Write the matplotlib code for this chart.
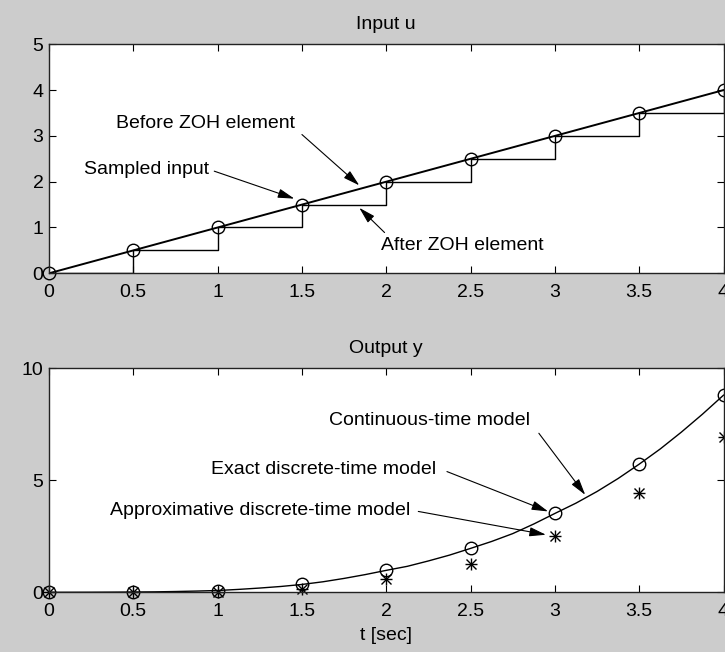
import matplotlib
matplotlib.use("Agg")
import matplotlib.pyplot as plt

# ---- data ----
t_samples = [0, 0.5, 1, 1.5, 2, 2.5, 3, 3.5, 4]
u_samples = [0, 0.5, 1, 1.5, 2, 2.5, 3, 3.5, 4]
t_input_line = [0, 4]
u_input_line = [0, 4]

t_cont = [0, 0.125, 0.25, 0.375, 0.5, 0.625, 0.75, 0.875, 1, 1.125, 1.25, 1.375,
          1.5, 1.625, 1.75, 1.875, 2, 2.125, 2.25, 2.375, 2.5, 2.625, 2.75, 2.875,
          3, 3.125, 3.25, 3.375, 3.5, 3.625, 3.75, 3.875, 4]
y_cont = [0, 0.001, 0.003, 0.007, 0.013, 0.02, 0.035, 0.055, 0.08, 0.13, 0.19, 0.26,
          0.35, 0.47, 0.62, 0.79, 0.98, 1.16, 1.4, 1.66, 1.96, 2.27, 2.62, 3.05,
          3.52, 3.98, 4.5, 5.08, 5.72, 6.4, 7.15, 7.95, 8.8]
y_exact = [0, 0.01, 0.08, 0.35, 0.98, 1.96, 3.52, 5.72, 8.8]
y_approx = [0, 0.0, 0.02, 0.15, 0.58, 1.27, 2.5, 4.43, 6.95]

x_ticks = [0, 0.5, 1, 1.5, 2, 2.5, 3, 3.5, 4]
x_ticklabels = ["0", "0.5", "1", "1.5", "2", "2.5", "3", "3.5", "4"]
top_yticks = [0, 1, 2, 3, 4, 5]
bot_yticks = [0, 5, 10]

plt.rcParams['font.family'] = ['Liberation Sans', 'DejaVu Sans']
FS = 14

fig = plt.figure(figsize=(7.25, 6.52), dpi=100, facecolor='#cccccc')
ax1 = fig.add_axes([49/725, 1-273.3/652, (723.5-49)/725, (273.3-44.3)/652])
ax2 = fig.add_axes([49/725, 1-592.3/652, (723.5-49)/725, (592.3-368.3)/652])

for ax in (ax1, ax2):
    ax.set_facecolor('white')
    ax.set_xlim(0, 4)
    ax.set_xticks(x_ticks)
    ax.set_xticklabels(x_ticklabels)
    ax.tick_params(direction='in', top=True, right=True, length=5, width=0.8,
                   labelsize=FS, colors='black')
    ax.tick_params(axis='x', pad=8)
    ax.tick_params(axis='y', pad=4)
    for s in ax.spines.values():
        s.set_linewidth(1.0)
        s.set_color('#222222')

arrow = dict(arrowstyle='-|>,head_length=1.0,head_width=0.28', lw=0.8, color='black',
             shrinkA=0, shrinkB=0)

# ---- top: input ----
ax1.set_ylim(0, 5)
ax1.set_yticks(top_yticks)
ax1.plot(t_input_line, u_input_line, color='black', lw=1.4)
ax1.step(t_samples, u_samples, where='post', color='black', lw=1.0)
ax1.plot(t_samples, u_samples, linestyle='none', marker='o', mfc='none', mec='black',
         ms=9, mew=1.0, clip_on=False)
ax1.set_title('Input u', fontsize=FS, pad=11)

ax1.text(0.40, 3.28, 'Before ZOH element', fontsize=FS, va='center', ha='left')
ax1.annotate('', xy=(1.84, 1.92), xytext=(1.50, 3.03), arrowprops=arrow)
ax1.text(0.205, 2.27, 'Sampled input', fontsize=FS, va='center', ha='left')
ax1.annotate('', xy=(1.455, 1.63), xytext=(0.98, 2.23), arrowprops=arrow)
ax1.text(1.967, 0.60, 'After ZOH element', fontsize=FS, va='center', ha='left')
ax1.annotate('', xy=(1.84, 1.43), xytext=(1.99, 0.89), arrowprops=arrow)

# ---- bottom: output ----
ax2.set_ylim(0, 10)
ax2.set_yticks(bot_yticks)
ax2.plot(t_cont, y_cont, color='black', lw=1.0)
ax2.plot(t_samples, y_exact, linestyle='none', marker='o', mfc='none', mec='black',
         ms=9, mew=1.0, clip_on=False)
ax2.plot(t_samples, y_approx, linestyle='none', marker='+', color='black', ms=9, mew=1.0,
         clip_on=False)
ax2.plot(t_samples, y_approx, linestyle='none', marker='x', color='black', ms=6.5, mew=1.0,
         clip_on=False)
ax2.set_title('Output y', fontsize=FS, pad=11)
ax2.set_xlabel('t [sec]', fontsize=FS, labelpad=5)

ax2.text(1.66, 7.65, 'Continuous-time model', fontsize=FS, va='center', ha='left')
ax2.annotate('', xy=(3.18, 4.35), xytext=(2.905, 7.1), arrowprops=arrow)
ax2.text(0.963, 5.5, 'Exact discrete-time model', fontsize=FS, va='center', ha='left')
ax2.annotate('', xy=(2.96, 3.61), xytext=(2.36, 5.39), arrowprops=arrow)
ax2.text(0.361, 3.66, 'Approximative discrete-time model', fontsize=FS, va='center', ha='left')
ax2.annotate('', xy=(2.947, 2.57), xytext=(2.19, 3.61), arrowprops=arrow)

fig.savefig('out.png', dpi=100, facecolor=fig.get_facecolor())
